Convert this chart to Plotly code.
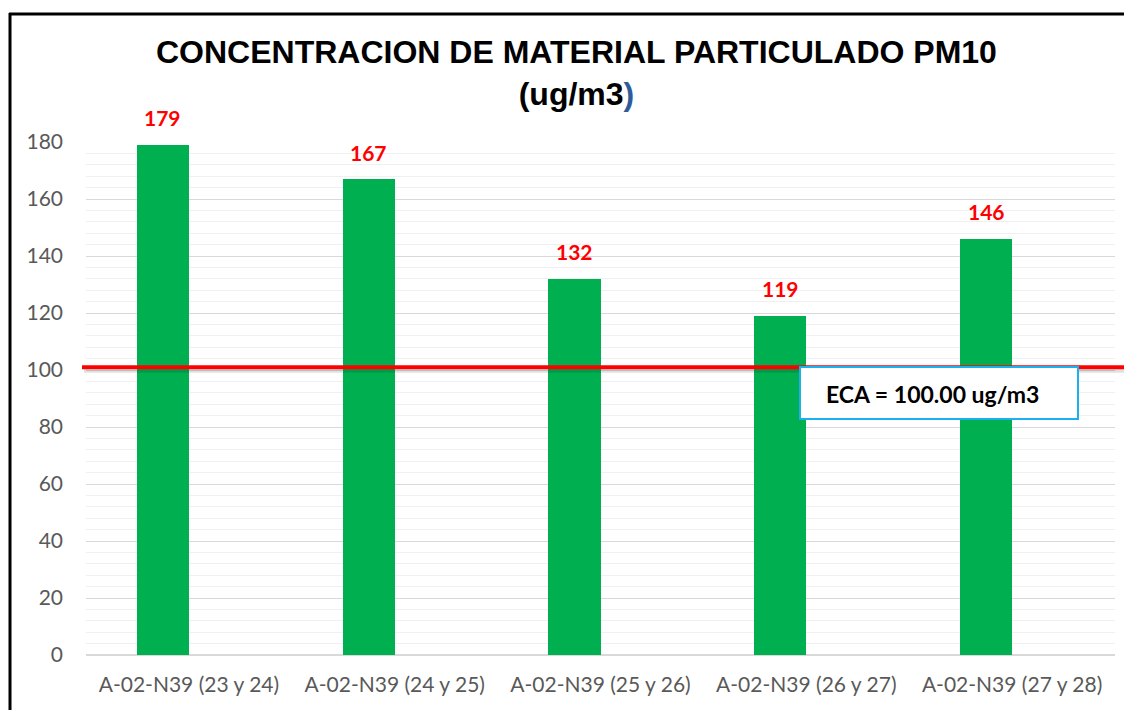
import plotly.graph_objects as go

categories = ["A-02-N39 (23 y 24)", "A-02-N39 (24 y 25)", "A-02-N39 (25 y 26)",
              "A-02-N39 (26 y 27)", "A-02-N39 (27 y 28)"]
pm10_values = [179, 167, 132, 119, 146]
eca_label_value = 100.00
eca_line_level = 101  # as drawn in the picture
y_ticks = [0, 20, 40, 60, 80, 100, 120, 140, 160, 180]

OFF = 8  # page body margin
W, H = 1132 - OFF, 710 - OFF
L, R, T, B = 86 - OFF, 1115 - OFF, 142 - OFF, 655 - OFF  # plot area in figure pixels

BAR_W = 0.253


def px(x):
    return (x - OFF - L) / (R - L)


def py(y):
    return (B - (y - OFF)) / (B - T)


fig = go.Figure()
fig.add_trace(go.Bar(
    x=categories, y=pm10_values,
    width=BAR_W, offset=-BAR_W,
    marker=dict(color="#00b050", line=dict(width=0)),
    hoverinfo="x+y",
))

for i, v in enumerate(pm10_values):
    fig.add_annotation(
        x=i - BAR_W / 2, y=v, xref="x", yref="y",
        text=f"<b>{v}</b>", showarrow=False,
        xanchor="center", yanchor="middle", yshift=27,
        font=dict(family="Lato", size=21, color="#ff0000"),
    )

fig.update_layout(
    width=W, height=H,
    margin=dict(l=L, r=W - R, t=T, b=H - B, pad=0, autoexpand=False),
    paper_bgcolor="white", plot_bgcolor="white",
    showlegend=False,
    bargap=0,
    xaxis=dict(
        showgrid=False, zeroline=False, showline=False, automargin=False,
        tickfont=dict(family="Lato", size=21, color="#595959"),
        ticks="", ticklabelstandoff=15,
    ),
    yaxis=dict(
        range=[0, 180], tickvals=y_ticks, automargin=False,
        showgrid=True, gridcolor="#d9d9d9", gridwidth=1.3,
        minor=dict(dtick=4, showgrid=True, gridcolor="#f0f0f0", gridwidth=1.3),
        zeroline=True, zerolinecolor="#d9d9d9", zerolinewidth=1.5,
        showline=False,
        tickfont=dict(family="Lato", size=21, color="#595959"),
        ticks="", ticklabelstandoff=22,
    ),
)

# Title
fig.add_annotation(
    xref="paper", yref="paper", x=px(576), y=py(73),
    xanchor="center", yanchor="middle", showarrow=False,
    text="<b>CONCENTRACION DE MATERIAL PARTICULADO PM10<br>(ug/m3<span style='color:#2e5c9a'>)</span></b>",
    font=dict(family="Liberation Sans", size=32, color="black"),
)

# ECA line shadow + line
fig.add_shape(type="line", xref="paper", yref="y",
              x0=px(84), x1=px(1300), y0=eca_line_level - 1.1, y1=eca_line_level - 1.1,
              line=dict(color="rgba(0,0,0,0.12)", width=5), layer="above")
fig.add_shape(type="line", xref="paper", yref="y",
              x0=px(82), x1=px(1300), y0=eca_line_level, y1=eca_line_level,
              line=dict(color="#ff0000", width=4), layer="above")

# ECA box
fig.add_shape(type="rect", xref="paper", yref="paper",
              x0=px(800), x1=px(1078), y0=py(419), y1=py(367),
              fillcolor="white", line=dict(color="#1cb0ec", width=2), layer="above")
fig.add_annotation(
    xref="paper", yref="paper", x=px(932), y=py(394),
    xanchor="center", yanchor="middle", showarrow=False,
    text=f"<b>ECA = {eca_label_value:.2f} ug/m3</b>",
    font=dict(family="Lato", size=23, color="black"),
)

# Outer frame (left and top edges visible)
fig.add_shape(type="line", xref="paper", yref="paper",
              x0=px(10), x1=px(10), y0=py(800), y1=py(13),
              line=dict(color="black", width=3), layer="above")
fig.add_shape(type="line", xref="paper", yref="paper",
              x0=px(9), x1=px(1300), y0=py(14), y1=py(14),
              line=dict(color="black", width=3), layer="above")

fig.write_html("out.html")
